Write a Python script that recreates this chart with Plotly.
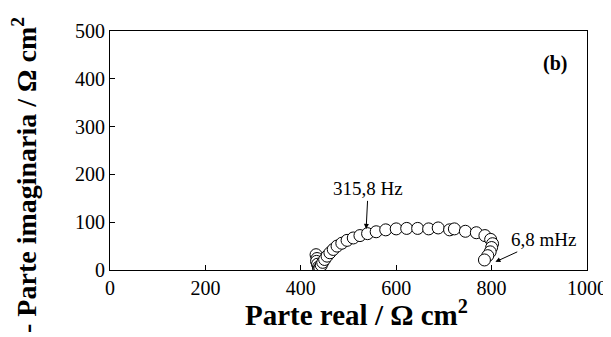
import plotly.graph_objects as go

# Data (Nyquist plot)
z_real = [432, 434, 433, 435, 437, 438, 440, 443, 446, 450, 455, 461, 468, 476,
          486, 497, 510, 524, 540, 558, 578, 600, 622, 645, 668, 688, 712, 722,
          745, 768, 786, 798, 802, 800, 797, 792, 785]
z_imag = [32, 24, 18, 12, 6, 2, 4, 10, 16, 22, 29, 36, 43, 50,
          56, 62, 67, 72, 76, 80, 84, 86, 87, 87, 86, 88, 84, 86,
          81, 78, 72, 64, 55, 47, 38, 30, 21]

x_ticks = [0, 200, 400, 600, 800, 1000]
y_ticks = [0, 100, 200, 300, 400, 500]

FONT = "'Times New Roman', 'Liberation Serif', Times, serif"

fig = go.Figure()
fig.add_trace(go.Scatter(
    x=z_real, y=z_imag, mode="markers",
    marker=dict(symbol="circle", size=12, color="white",
                line=dict(color="black", width=1)),
    showlegend=False,
))

fig.update_layout(
    width=611, height=337,
    margin=dict(l=102, r=32, t=23, b=75, autoexpand=False),
    paper_bgcolor="white", plot_bgcolor="white",
    font=dict(family=FONT, color="black", size=16),
    xaxis=dict(range=[0, 1000], tickvals=x_ticks, showgrid=False, zeroline=False,
               showline=True, mirror=True, linecolor="black", linewidth=1,
               ticks="inside", ticklen=5, tickcolor="black", automargin=False,
               tickfont=dict(family=FONT, size=20)),
    yaxis=dict(range=[0, 500], tickvals=y_ticks, showgrid=False, zeroline=False,
               showline=True, mirror=True, linecolor="black", linewidth=1,
               ticks="inside", ticklen=5, tickcolor="black", automargin=False,
               ticksuffix="\u2009",
               tickfont=dict(family=FONT, size=20)),
    annotations=[
        dict(x=0.516, y=-0.18, xref="paper", yref="paper",
             text="<b>Parte real / Ω cm<sup>2</sup></b>", showarrow=False,
             xanchor="center", yanchor="middle",
             font=dict(family=FONT, size=29)),
        dict(x=-0.178, y=0.398, xref="paper", yref="paper",
             text="<b>- Parte imaginaria / Ω cm<sup>2</sup></b>", showarrow=False,
             xanchor="center", yanchor="middle", textangle=-90,
             font=dict(family=FONT, size=28)),
        dict(x=933, y=431, xref="x", yref="y", text="<b>(b)</b>", showarrow=False,
             font=dict(family=FONT, size=20)),
        dict(x=537, y=86, xref="x", yref="y", text="315,8 Hz", showarrow=True,
             arrowhead=2, arrowsize=1, arrowwidth=1, arrowcolor="black",
             ax=2, ay=-40, font=dict(family=FONT, size=19)),
        dict(x=808, y=17, xref="x", yref="y", text="6,8 mHz", showarrow=True,
             arrowhead=2, arrowsize=1, arrowwidth=1, arrowcolor="black",
             ax=48, ay=-22, font=dict(family=FONT, size=19)),
    ],
)

fig.write_html("out.html")
